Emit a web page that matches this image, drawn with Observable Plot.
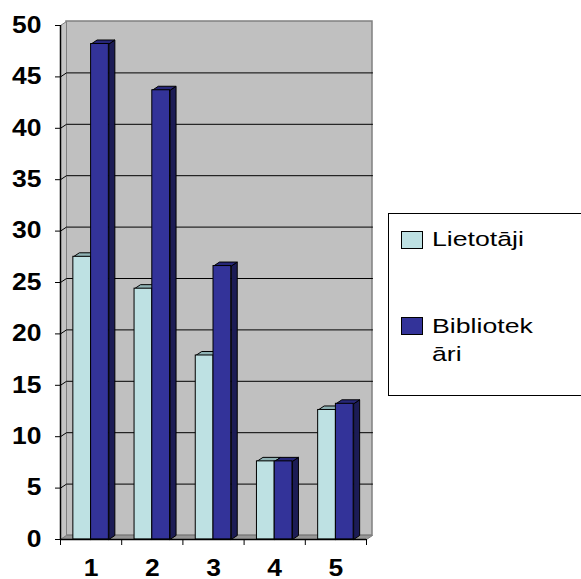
<!DOCTYPE html>
<html>
<head>
<meta charset="utf-8">
<script src="https://cdn.jsdelivr.net/npm/d3@7"></script>
<script src="https://cdn.jsdelivr.net/npm/@observablehq/plot@0.6"></script>
<style>
  html, body { margin: 0; padding: 0; background: #fff; }
  #wrap { position: relative; width: 581px; height: 579px; overflow: hidden; font-family: "Liberation Sans", Arial, sans-serif; }
  #legend { position: absolute; left: 388px; top: 213px; width: 210px; height: 181px; border: 1px solid #000; background: #fff; box-sizing: content-box; }
  .sw { position: absolute; left: 12px; width: 22px; height: 18px; border: 1px solid #000; box-sizing: border-box; }
  .lt { position: absolute; left: 43px; font-size: 21px; line-height: 28px; width: 84px; word-break: break-all; transform: scaleX(1.27); transform-origin: 0 0; color: #000; }
</style>
</head>
<body>
<div id="wrap"><div id="chart"></div><div id="legend"></div></div>
<script>
// ---- data ----
const categories = [1, 2, 3, 4, 5];
const xTickLabels = ["1", "2", "3", "4", "5"];
const seriesNames = ["Lietotāji", "Bibliotekāri"];
const lietotaji = [27.5, 24.4, 17.9, 7.6, 12.6];
const bibliotekari = [48.2, 43.7, 26.6, 7.6, 13.2];
const yTicks = [0, 5, 10, 15, 20, 25, 30, 35, 40, 45, 50];

// ---- layout / style ----
const W = 581, H = 579, mL = 60, mR = 215, mT = 25, mB = 40;
const xDomain = [categories[0] - 0.5, categories[categories.length - 1] + 0.5];
const yDomain = [0, 50];
const depthX = 6, depthY = 4;
const ddx = depthX * (xDomain[1] - xDomain[0]) / (W - mL - mR);
const ddy = depthY * (yDomain[1] - yDomain[0]) / (H - mT - mB);
const barW = 0.29;
const seriesStyle = [
  {values: lietotaji, o1: -barW, o2: 0, front: "#bee1e3", top: "#8fb2b4", side: "#7b9c9e"},
  {values: bibliotekari, o1: 0, o2: barW, front: "#333399", top: "#272778", side: "#1c1c55"}
];

function rowsFor(s) {
  return categories.map((c, i) => ({c, v: s.values[i], x1: c + s.o1, x2: c + s.o2}));
}
function topPoly(rows) {
  return rows.flatMap((r, i) => [[r.x1, r.v], [r.x2, r.v], [r.x2 + ddx, r.v + ddy], [r.x1 + ddx, r.v + ddy], [r.x1, r.v]].map(([x, y]) => ({x, y, id: i})));
}
function sidePoly(rows) {
  return rows.flatMap((r, i) => [[r.x2, 0], [r.x2 + ddx, ddy], [r.x2 + ddx, r.v + ddy], [r.x2, r.v], [r.x2, 0]].map(([x, y]) => ({x, y, id: i})));
}

const x0 = xDomain[0], x1 = xDomain[1];
const floor = [[x0, 0], [x1, 0], [x1 + ddx, ddy], [x0 + ddx, ddy], [x0, 0]].map(([x, y]) => ({x, y}));
const leftPanel = [[x0, 0], [x0 + ddx, ddy], [x0 + ddx, yDomain[1] + ddy], [x0, yDomain[1]], [x0, 0]].map(([x, y]) => ({x, y}));
const grid = yTicks.filter(t => t > 0 && t < yDomain[1]).flatMap(t => [[x0, t], [x0 + ddx, t + ddy], [x1 + ddx, t + ddy]].map(([x, y]) => ({x, y, id: t})));
const boundaryTicks = [categories[0] - 0.5, ...categories.map(c => c + 0.5)];

const barMarks = seriesStyle.flatMap(s => {
  const rows = rowsFor(s);
  return [
    Plot.line(sidePoly(rows), {x: "x", y: "y", z: "id", fill: s.side, stroke: "#000", strokeWidth: 1, strokeLinejoin: "miter"}),
    Plot.line(topPoly(rows), {x: "x", y: "y", z: "id", fill: s.top, stroke: "#000", strokeWidth: 1, strokeLinejoin: "miter"}),
    Plot.rect(rows, {x1: "x1", x2: "x2", y1: () => 0, y2: "v", fill: s.front, stroke: "#000", strokeWidth: 1})
  ];
});

const chart = Plot.plot({
  width: W, height: H,
  marginLeft: mL, marginRight: mR, marginTop: mT, marginBottom: mB,
  x: {type: "linear", domain: xDomain},
  y: {type: "linear", domain: yDomain},
  style: {fontFamily: "'Liberation Sans', Arial, sans-serif", fontWeight: "bold", color: "#000", background: "#fff", overflow: "visible"},
  marks: [
    Plot.rect([0], {x1: () => x0, x2: () => x1, y1: () => yDomain[0], y2: () => yDomain[1], dx: depthX, dy: -depthY, fill: "#c0c0c0", stroke: "#808080", strokeWidth: 1.5}),
    Plot.line(leftPanel, {x: "x", y: "y", fill: "#c4c4c4", stroke: "#808080", strokeWidth: 1}),
    Plot.line(floor, {x: "x", y: "y", fill: "#969696", stroke: "#808080", strokeWidth: 1}),
    Plot.line(grid, {x: "x", y: "y", z: "id", stroke: "#000", strokeWidth: 1}),
    ...barMarks,
    Plot.ruleX([x0], {y1: () => yDomain[0], y2: () => yDomain[1], stroke: "#000", strokeWidth: 1.5}),
    Plot.ruleY([0], {x1: () => x0, x2: () => x1, stroke: "#000", strokeWidth: 1.5}),
    Plot.axisY({ticks: yTicks, tickSize: 5, tickPadding: 14, fontSize: 23, label: null}),
    Plot.axisX({ticks: boundaryTicks, tickSize: 6, tickFormat: () => "", label: null}),
    Plot.axisX({ticks: categories, tickSize: 0, tickPadding: 20, tickFormat: c => xTickLabels[categories.indexOf(c)], fontSize: 23, label: null})
  ]
});
// widen the tick label glyphs horizontally, as in the reference
chart.querySelectorAll("text").forEach(t => {
  const tr = t.getAttribute("transform");
  if (tr && tr.includes("translate")) t.setAttribute("transform", tr + " scale(1.15,1)");
});
document.getElementById("chart").appendChild(chart);

// ---- legend ----
const legend = document.getElementById("legend");
const legendTops = [{sw: 17, txt: 11}, {sw: 103, txt: 98}];
seriesNames.forEach((name, i) => {
  const sw = document.createElement("div");
  sw.className = "sw";
  sw.style.top = legendTops[i].sw + "px";
  sw.style.background = seriesStyle[i].front;
  legend.appendChild(sw);
  const t = document.createElement("div");
  t.className = "lt";
  t.style.top = legendTops[i].txt + "px";
  t.textContent = name;
  legend.appendChild(t);
});
</script>
</body>
</html>
